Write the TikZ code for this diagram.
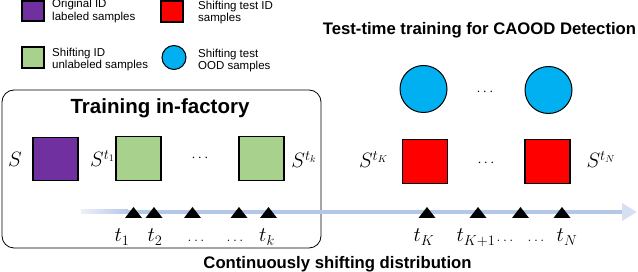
\documentclass[tikz,border=0pt]{standalone}
\usepackage[no-math]{fontspec}
\setmainfont{Liberation Sans}
\usetikzlibrary{arrows.meta}
\definecolor{violetsq}{HTML}{7030A0}
\definecolor{greensq}{HTML}{A9D18E}
\definecolor{redsq}{HTML}{FF0000}
\definecolor{bluecirc}{HTML}{00B0F0}
\definecolor{timeline}{HTML}{B4C7E7}
\begin{document}
\begin{tikzpicture}[x=1pt,y=-1pt,
  sq/.style={draw, line width=1.3pt, minimum width=45pt, minimum height=43.5pt, inner sep=0pt},
  legsq/.style={draw, line width=1.8pt, minimum width=22pt, minimum height=20.5pt, inner sep=0pt},
  legtxt/.style={align=left, anchor=west, inner sep=0pt, font=\fontsize{11.5}{12.5}\selectfont},
  lbl/.style={inner sep=0pt, anchor=base, font=\fontsize{20}{21}\selectfont},
  dots/.style={inner sep=0pt, anchor=base, font=\fontsize{14}{15}\selectfont},
  ttl/.style={inner sep=0pt, anchor=base, font=\bfseries\fontsize{16.7}{18}\selectfont}]
\useasboundingbox (0,0) rectangle (638,272);

% legend
\node (legViolet) at (33,11) [legsq, fill=violetsq]{};
\node (txtViolet) at (52,11) [legtxt]{Original ID\\labeled samples};
\node (legRed) at (172,11.5) [legsq, fill=redsq]{};
\node (txtRed) at (198,12.5) [legtxt]{Shifting test ID\\samples};
\node (legGreen) at (33,57.5) [legsq, fill=greensq]{};
\node (txtGreen) at (52,59.5) [legtxt]{Shifting ID\\unlabeled samples};
\node (legBlue) at (174,57.5) [draw, line width=1pt, circle, fill=bluecirc, minimum size=24pt, inner sep=0pt]{};
\node (txtBlue) at (198,60.5) [legtxt]{Shifting test\\OOD samples};

% training in-factory
\node (trainBox) at (161.5,169) [draw, line width=0.8pt, rounded corners=12pt, minimum width=319pt, minimum height=158pt]{};
\node (trainTitle) at (160,114) [ttl, font=\bfseries\fontsize{20.5}{22}\selectfont]{Training in-factory};
\node (sqS) at (55.5,159) [sq, fill=violetsq]{};
\node (sqA) at (138.5,158.5) [sq, fill=greensq]{};
\node (sqK) at (261.5,158.5) [sq, fill=greensq]{};
\node (labS) at (15,167) [lbl]{$S$};
\node (labA) at (102.5,167) [lbl]{$S^{t_1}$};
\node (labK) at (304,168) [lbl]{$S^{t_k}$};
\node (dotsTrain) at (200,161.5) [dots]{$\cdots$};

% test-time training
\node (testTitle) at (479.5,35) [ttl]{Test-time training for CAOOD Detection};
\node (oodK) at (423.5,89) [draw, line width=1pt, circle, fill=bluecirc, minimum size=47pt, inner sep=0pt]{};
\node (oodN) at (548.5,90) [draw, line width=1pt, circle, fill=bluecirc, minimum size=47pt, inner sep=0pt]{};
\node (dotsOod) at (485,95.5) [dots]{$\cdots$};
\node (sqTK) at (425,161.5) [sq, fill=redsq]{};
\node (sqTN) at (547.5,161.5) [sq, fill=redsq]{};
\node (labTK) at (373.5,168) [lbl]{$S^{t_K}$};
\node (labTN) at (601,168) [lbl]{$S^{t_N}$};
\node (dotsTest) at (486,166.5) [dots]{$\cdots$};

% time line
\coordinate (lineL) at (81,212);
\coordinate (lineR) at (637,212);
\draw[line width=4pt, timeline, -{Triangle[length=15pt, width=17pt, color=timeline!55, fill=timeline!55]}] (lineL) -- (lineR);
\shade[left color=timeline!25, right color=timeline] (81,210) rectangle (128,214);
\foreach \x in {133.5,154,192.5,239,268.5,427,478,520.5,562}
  \fill (\x-8.5,218) -- (\x+8.5,218) -- (\x,207) -- cycle;

\node (tA) at (122,242) [lbl]{$t_1$};
\node (tB) at (155,242) [lbl]{$t_2$};
\node (dotsA) at (196,242) [dots]{$\ldots$};
\node (dotsB) at (235,242) [dots]{$\ldots$};
\node (tk) at (267,242) [lbl]{$t_k$};
\node (tK) at (424,242) [lbl]{$t_K$};
\node (tK1) at (476,242) [lbl]{$t_{K+1}$};
\node (dotsC) at (505,242) [dots]{$\ldots$};
\node (dotsD) at (536,242) [dots]{$\ldots$};
\node (tN) at (567,242) [lbl]{$t_N$};

\node (shiftTitle) at (337.5,269) [ttl]{Continuously shifting distribution};
\end{tikzpicture}
\end{document}
